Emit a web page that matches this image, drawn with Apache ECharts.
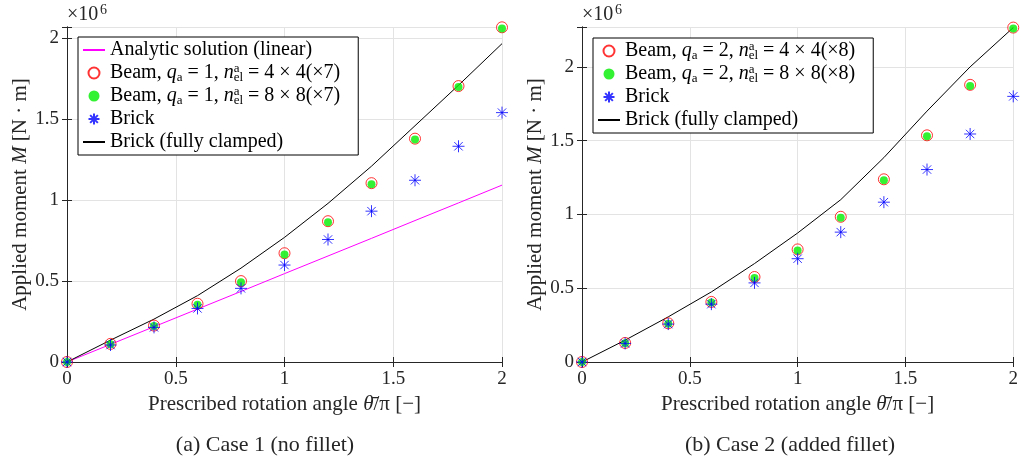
<!DOCTYPE html>
<html><head><meta charset="utf-8">
<script src="https://cdn.jsdelivr.net/npm/echarts@6/dist/echarts.min.js"></script>
<style>html,body{margin:0;padding:0;background:#fff}#c{width:1021px;height:464px}</style>
</head><body><div id="c"></div>
<script>
// rotation angle (theta_bar / pi)
const angles = [0, 0.2, 0.4, 0.6, 0.8, 1.0, 1.2, 1.4, 1.6, 1.8, 2.0];
const xTickLabels = ['0', '0.5', '1', '1.5', '2'];
const yTickLabels = ['0', '0.5', '1', '1.5', '2'];
// applied moment, in 10^6 N·m
// Case 1 (no fillet)
const c1Analytic = [0, 0.109, 0.218, 0.327, 0.436, 0.546, 0.655, 0.764, 0.874, 0.983, 1.093];
const c1Beam4    = [0, 0.112, 0.225, 0.360, 0.500, 0.672, 0.870, 1.105, 1.380, 1.705, 2.068];
const c1Beam8    = [0, 0.110, 0.222, 0.354, 0.493, 0.665, 0.863, 1.099, 1.375, 1.700, 2.060];
const c1Brick    = [0, 0.105, 0.214, 0.331, 0.455, 0.599, 0.757, 0.932, 1.123, 1.333, 1.541];
const c1Clamped  = [0, 0.135, 0.265, 0.410, 0.580, 0.770, 0.980, 1.210, 1.460, 1.710, 1.967];
// Case 2 (added fillet)
const c2Beam4    = [0, 0.129, 0.262, 0.407, 0.576, 0.763, 0.984, 1.238, 1.536, 1.878, 2.266];
const c2Beam8    = [0, 0.127, 0.259, 0.403, 0.570, 0.756, 0.977, 1.232, 1.530, 1.871, 2.260];
const c2Brick    = [0, 0.126, 0.257, 0.392, 0.536, 0.700, 0.880, 1.083, 1.304, 1.545, 1.800];
const c2Clamped  = [0, 0.148, 0.306, 0.475, 0.667, 0.874, 1.100, 1.385, 1.700, 2.000, 2.266];

const F = 'Liberation Serif';
const TXT = '#262626';
const pair = arr => angles.map((a, i) => [a, arr[i]]);
const STAR = 'path://M5,0L5,10M0,5L10,5M1.5,1.5L8.5,8.5M8.5,1.5L1.5,8.5';
const LS = 20; // legend font size

const rich = {
  i: {fontFamily: F, fontSize: LS, fontStyle: 'italic', color: '#000', lineHeight: 22},
  sub: {fontFamily: F, fontSize: 13, color: '#000', lineHeight: 11, verticalAlign: 'bottom'},
  supz: {fontFamily: F, fontSize: 13, color: '#000', lineHeight: 11, verticalAlign: 'top', width: 0.01}
};
const beamLbl = (q, n, k) => `Beam, {i|q}{sub|a} = ${q}, {i|n}{supz|a}{sub|el} = ${n} × ${n}(×${k})`;
const labels = {
  c1a: 'Analytic solution (linear)',
  c1b4: beamLbl(1, 4, 7), c1b8: beamLbl(1, 8, 7),
  c1br: 'Brick', c1cl: 'Brick (fully clamped)',
  c2b4: beamLbl(2, 4, 8), c2b8: beamLbl(2, 8, 8),
  c2br: 'Brick', c2cl: 'Brick (fully clamped)'
};

const nameStyle = {fontFamily: F, fontSize: 21, color: TXT,
  rich: {i: {fontFamily: F, fontSize: 21, fontStyle: 'italic', color: TXT}}};

function xAxes(gi) {
  return [{
    gridIndex: gi, type: 'value', min: 0, max: 2, interval: 0.5,
    axisLine: {show: true, lineStyle: {color: TXT, width: 1}},
    axisTick: {show: true, inside: true, length: 5, lineStyle: {color: TXT}},
    axisLabel: {fontFamily: F, fontSize: 19, color: TXT, margin: 8,
      formatter: v => xTickLabels[Math.round(v / 0.5)] ?? ''},
    splitLine: {show: true, lineStyle: {color: '#e3e3e3', width: 1}},
    name: 'Prescribed rotation angle {i|θ̄}/π [−]', nameLocation: 'middle', nameGap: 32,
    nameTextStyle: nameStyle
  }, {
    gridIndex: gi, type: 'value', min: 0, max: 2, interval: 0.5, position: 'top',
    axisLine: {show: true, lineStyle: {color: TXT, width: 1}},
    axisTick: {show: true, inside: true, length: 5, lineStyle: {color: TXT}},
    axisLabel: {show: false}, splitLine: {show: false}
  }];
}
function yAxes(gi, max) {
  return [{
    gridIndex: gi, type: 'value', min: 0, max: max, interval: 0.5,
    axisLine: {show: true, lineStyle: {color: TXT, width: 1}},
    axisTick: {show: true, inside: true, length: 5, lineStyle: {color: TXT}},
    axisLabel: {fontFamily: F, fontSize: 19, color: TXT, margin: 8,
      formatter: v => (Math.abs(v / 0.5 - Math.round(v / 0.5)) < 1e-6 ? (yTickLabels[Math.round(v / 0.5)] ?? '') : '')},
    splitLine: {show: true, lineStyle: {color: '#e3e3e3', width: 1}},
    name: 'Applied moment {i|M} [N · m]', nameLocation: 'middle', nameGap: 36,
    nameTextStyle: nameStyle
  }, {
    gridIndex: gi, type: 'value', min: 0, max: max, interval: 0.5, position: 'right',
    axisLine: {show: true, lineStyle: {color: TXT, width: 1}},
    axisTick: {show: true, inside: true, length: 5, lineStyle: {color: TXT}},
    axisLabel: {show: false}, splitLine: {show: false}
  }];
}

function lineS(name, data, color, xi, yi) {
  return {name, type: 'line', data: pair(data), xAxisIndex: xi, yAxisIndex: yi,
    symbol: 'none', lineStyle: {color, width: 1}, itemStyle: {color}, z: 3, animation: false};
}
function circS(name, data, xi, yi) {
  return {name, type: 'scatter', data: pair(data), xAxisIndex: xi, yAxisIndex: yi,
    symbol: 'circle', symbolSize: 11,
    itemStyle: {color: 'rgba(0,0,0,0)', borderColor: '#ff0000', borderWidth: 1}, z: 4, animation: false};
}
function dotS(name, data, xi, yi) {
  return {name, type: 'scatter', data: pair(data), xAxisIndex: xi, yAxisIndex: yi,
    symbol: 'circle', symbolSize: 8, itemStyle: {color: '#00ee00'}, z: 5, animation: false};
}
function starS(name, data, xi, yi) {
  return {name, type: 'scatter', data: pair(data), xAxisIndex: xi, yAxisIndex: yi,
    symbol: STAR, symbolSize: 12,
    itemStyle: {color: 'rgba(0,0,0,0)', borderColor: '#0000ff', borderWidth: 1}, z: 6, animation: false};
}
const noDot = {color: 'rgba(0,0,0,0)', borderColor: 'rgba(0,0,0,0)', borderWidth: 0};

const legendBase = {
  orient: 'vertical', itemGap: 1, itemWidth: 22, itemHeight: 11,
  padding: [2, 18, 2, 4], borderColor: '#000', borderWidth: 1, backgroundColor: '#fff',
  formatter: n => labels[n],
  textStyle: {fontFamily: F, fontSize: LS, color: '#000', lineHeight: 22, rich: rich},
  selectedMode: false
};

const expText = (x) => ([
  {type: 'text', x: x, y: 25, style: {text: '×10', fontFamily: F, fontSize: 20, fill: TXT, verticalAlign: 'bottom'}},
  {type: 'text', x: x + 33, y: 17, style: {text: '6', fontFamily: F, fontSize: 14, fill: TXT, verticalAlign: 'bottom'}}
]);

const option = {
  animation: false,
  backgroundColor: '#fff',
  grid: [
    {left: 67, top: 27, width: 435, height: 335},
    {left: 582, top: 27, width: 436, height: 335}
  ],
  xAxis: [...xAxes(0), ...xAxes(1)],
  yAxis: [...yAxes(0, 2.07), ...yAxes(1, 2.27)],
  legend: [
    Object.assign({}, legendBase, {left: 78, top: 37, data: [
      {name: 'c1a', itemStyle: noDot}, 'c1b4', 'c1b8', 'c1br', {name: 'c1cl', itemStyle: noDot}]}),
    Object.assign({}, legendBase, {left: 593, top: 38, data: [
      'c2b4', 'c2b8', 'c2br', {name: 'c2cl', itemStyle: noDot}]})
  ],
  series: [
    lineS('c1a', c1Analytic, '#ff00ff', 0, 0),
    circS('c1b4', c1Beam4, 0, 0),
    dotS('c1b8', c1Beam8, 0, 0),
    starS('c1br', c1Brick, 0, 0),
    lineS('c1cl', c1Clamped, '#000000', 0, 0),
    circS('c2b4', c2Beam4, 2, 2),
    dotS('c2b8', c2Beam8, 2, 2),
    starS('c2br', c2Brick, 2, 2),
    lineS('c2cl', c2Clamped, '#000000', 2, 2)
  ],
  graphic: [
    ...expText(67), ...expText(582),
    {type: 'text', x: 265, y: 445, style: {text: '(a) Case 1 (no fillet)', fontFamily: F, fontSize: 22, fill: TXT, align: 'center', verticalAlign: 'middle'}},
    {type: 'text', x: 790, y: 445, style: {text: '(b) Case 2 (added fillet)', fontFamily: F, fontSize: 22, fill: TXT, align: 'center', verticalAlign: 'middle'}}
  ]
};
const chart = echarts.init(document.getElementById('c'), null, {renderer: 'canvas'});
chart.setOption(option);
</script>
</body></html>
